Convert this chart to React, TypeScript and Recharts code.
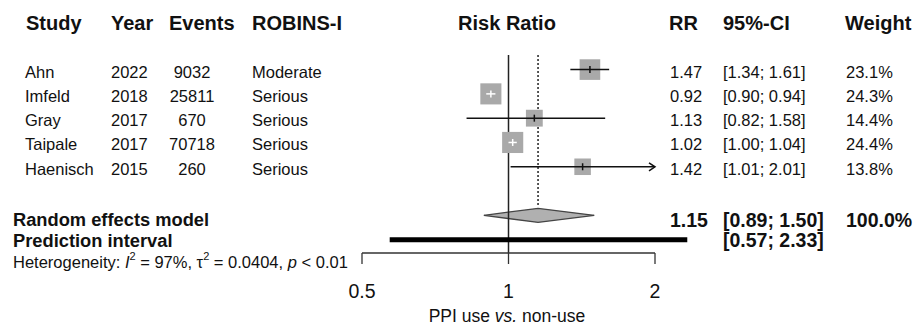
import React from "react";
import { ComposedChart, XAxis, YAxis, Scatter, Area, ReferenceLine } from "recharts";

// study level data
const studies = ["Ahn", "Imfeld", "Gray", "Taipale", "Haenisch"];
const years = [2022, 2018, 2017, 2017, 2015];
const events = [9032, 25811, 670, 70718, 260];
const robins = ["Moderate", "Serious", "Serious", "Serious", "Serious"];
const rr = [1.47, 0.92, 1.13, 1.02, 1.42];
const lower = [1.34, 0.9, 0.82, 1.0, 1.01];
const upper = [1.61, 0.94, 1.58, 1.04, 2.01];
const weights = [23.1, 24.3, 14.4, 24.4, 13.8];

// pooled estimate + prediction interval
const pooledRR = 1.15;
const pooledCI = [0.89, 1.5];
const predInterval = [0.57, 2.33];
const xTicks = [0.5, 1, 2];

// layout
const W = 919;
const H = 326;
const PLOT_LEFT = 362;
const PLOT_RIGHT = 655;
const PLOT_TOP = 21;
const PLOT_BOTTOM = 253;
const X_AXIS_H = 30;
const X_MIN = 0.5;
const X_MAX = 2;
const Y_MIN = -2;
const Y_MAX = 7.55;
const SUMMARY_ROW = 6;
const PRED_ROW = 7;
const DIAMOND_HALF = 0.29;

const FONT = "'Liberation Sans', Arial, Helvetica, sans-serif";
const INK = "#111";
const BOX = "#a9a9a9";

const rowPx = (r: number) =>
  PLOT_TOP + ((r - Y_MIN) * (PLOT_BOTTOM - PLOT_TOP)) / (Y_MAX - Y_MIN);

const boxSide = (w: number) => 2.6 + 3.75 * Math.sqrt(w);
const pxPerLn = (PLOT_RIGHT - PLOT_LEFT) / Math.log(X_MAX / X_MIN);
// R meta draws the CI in white when it sits inside the box
const ciInside = (i: number) => {
  const half = boxSide(weights[i]) / 2;
  return Math.log(rr[i] / lower[i]) * pxPerLn <= half && Math.log(upper[i] / rr[i]) * pxPerLn <= half;
};

const studyPoints = studies.map((s, i) => ({ x: rr[i], y: i, w: weights[i], inside: ciInside(i) }));

const diamond = [
  { x: pooledCI[0], r: [SUMMARY_ROW, SUMMARY_ROW] },
  { x: pooledRR, r: [SUMMARY_ROW - DIAMOND_HALF, SUMMARY_ROW + DIAMOND_HALF] },
  { x: pooledCI[1], r: [SUMMARY_ROW, SUMMARY_ROW] },
];

const fmtCI = (lo: number, hi: number) => `[${lo.toFixed(2)}; ${hi.toFixed(2)}]`;

const BoxShape = (props: any) => {
  const { cx, cy, payload } = props;
  const s = boxSide(payload.w);
  return <rect x={cx - s / 2} y={cy - s / 2} width={s} height={s} fill={BOX} />;
};

const EstTick = (props: any) => {
  const { cx, cy, payload } = props;
  return (
    <line x1={cx} x2={cx} y1={cy - 3.5} y2={cy + 3.5} stroke={payload.inside ? "#fff" : INK} strokeWidth={1.5} />
  );
};

const ArrowLine = (props: any) => {
  const { x1, y1, x2, y2, stroke, strokeWidth } = props;
  return (
    <g>
      <line x1={x1} y1={y1} x2={x2} y2={y2} stroke={stroke} strokeWidth={strokeWidth} />
      <polyline
        points={`${x2 - 6},${y2 - 4} ${x2},${y2} ${x2 - 6},${y2 + 4}`}
        fill="none"
        stroke={stroke}
        strokeWidth={strokeWidth}
      />
    </g>
  );
};

function TextLayer() {
  const hdr = { fontSize: 20, fontWeight: 700, fill: INK, dominantBaseline: "central" as const };
  const body = { fontSize: 16.5, fill: INK, dominantBaseline: "central" as const };
  const boldL = { fontSize: 18.3, fontWeight: 700, fill: INK, dominantBaseline: "central" as const };
  const boldR = { fontSize: 19.5, fontWeight: 700, fill: INK, dominantBaseline: "central" as const };
  const hy = rowPx(-2) + 2;
  return (
    <svg
      width={W}
      height={H}
      style={{ position: "absolute", left: 0, top: 0, pointerEvents: "none" }}
      fontFamily={FONT}
    >
      <text x={26} y={hy} {...hdr}>Study</text>
      <text x={111} y={hy} {...hdr}>Year</text>
      <text x={169} y={hy} {...hdr}>Events</text>
      <text x={252} y={hy} {...hdr}>ROBINS-I</text>
      <text x={507} y={hy} textAnchor="middle" {...hdr}>Risk Ratio</text>
      <text x={669} y={hy} {...hdr}>RR</text>
      <text x={723} y={hy} {...hdr}>95%-CI</text>
      <text x={845} y={hy} {...hdr}>Weight</text>

      {studies.map((s, i) => {
        const y = rowPx(i) + 2;
        return (
          <g key={s}>
            <text x={25} y={y} {...body}>{s}</text>
            <text x={111} y={y} {...body}>{years[i]}</text>
            <text x={192} y={y} textAnchor="middle" {...body}>{events[i]}</text>
            <text x={252} y={y} {...body}>{robins[i]}</text>
            <text x={670} y={y} {...body}>{rr[i].toFixed(2)}</text>
            <text x={723} y={y} {...body}>{fmtCI(lower[i], upper[i])}</text>
            <text x={846} y={y} {...body}>{weights[i].toFixed(1)}%</text>
          </g>
        );
      })}

      <text x={13} y={219.5} {...boldL}>Random effects model</text>
      <text x={13} y={240} {...boldL}>Prediction interval</text>
      <text x={670} y={219.5} {...boldR}>{pooledRR.toFixed(2)}</text>
      <text x={723} y={219.5} {...boldR}>{fmtCI(pooledCI[0], pooledCI[1])}</text>
      <text x={846} y={219.5} {...boldR}>100.0%</text>
      <text x={723} y={240} {...boldR}>{fmtCI(predInterval[0], predInterval[1])}</text>

      <text x={13} y={262} {...body}>
        Heterogeneity: <tspan fontStyle="italic">I</tspan>
        <tspan dy={-6} fontSize={11}>2</tspan>
        <tspan dy={6}> = 97%, τ</tspan>
        <tspan dy={-6} fontSize={11}>2</tspan>
        <tspan dy={6}> = 0.0404, </tspan>
        <tspan fontStyle="italic">p</tspan>
        <tspan>{" < 0.01"}</tspan>
      </text>

      <text x={507} y={316} textAnchor="middle" fontSize={17.5} fill={INK} dominantBaseline="central">
        PPI use <tspan fontStyle="italic">vs.</tspan> non-use
      </text>
    </svg>
  );
}

export default function App() {
  return (
    <div style={{ position: "absolute", left: 0, top: 0, width: W, height: H, background: "#fff", fontFamily: FONT }}>
      <ComposedChart
        width={W}
        height={H}
        margin={{ top: PLOT_TOP, right: W - PLOT_RIGHT, bottom: H - PLOT_BOTTOM - X_AXIS_H, left: PLOT_LEFT }}
      >
        <XAxis
          type="number"
          dataKey="x"
          scale="log"
          domain={[X_MIN, X_MAX]}
          allowDataOverflow
          ticks={xTicks}
          interval={0}
          height={X_AXIS_H}
          tickSize={11}
          tickMargin={20}
          axisLine={{ stroke: "#333", strokeWidth: 1.3 }}
          tickLine={{ stroke: "#333", strokeWidth: 1.3 }}
          tick={{ fill: INK, fontSize: 19.5, fontFamily: FONT }}
        />
        <YAxis type="number" dataKey="y" domain={[Y_MIN, Y_MAX]} reversed allowDataOverflow hide />

        <Area
          data={diamond}
          dataKey="r"
          type="linear"
          fill="#b0b0b0"
          fillOpacity={1}
          stroke="#444"
          strokeWidth={1.3}
          isAnimationActive={false}
          zIndex={100}
        />

        <ReferenceLine
          segment={[{ x: 1, y: -0.6 }, { x: 1, y: Y_MAX }]}
          stroke="#222"
          strokeWidth={1.5}
          ifOverflow="visible"
          zIndex={200}
        />
        <ReferenceLine
          segment={[{ x: pooledRR, y: -0.6 }, { x: pooledRR, y: SUMMARY_ROW - 0.35 }]}
          stroke="#222"
          strokeWidth={1.5}
          strokeDasharray="2 2"
          ifOverflow="visible"
          zIndex={200}
        />
        <ReferenceLine
          segment={[{ x: predInterval[0], y: PRED_ROW }, { x: predInterval[1], y: PRED_ROW }]}
          stroke="#000"
          strokeWidth={5}
          ifOverflow="visible"
          zIndex={200}
        />

        <Scatter data={studyPoints} shape={BoxShape} isAnimationActive={false} zIndex={600} />

        {studies.map((s, i) => (
          <ReferenceLine
            key={s}
            segment={[{ x: lower[i], y: i }, { x: Math.min(upper[i], X_MAX), y: i }]}
            stroke={studyPoints[i].inside ? "#fff" : INK}
            strokeWidth={1.5}
            ifOverflow="visible"
            shape={upper[i] > X_MAX ? ArrowLine : undefined}
            zIndex={700}
          />
        ))}

        <Scatter data={studyPoints} shape={EstTick} isAnimationActive={false} zIndex={800} />
      </ComposedChart>
      <TextLayer />
    </div>
  );
}
